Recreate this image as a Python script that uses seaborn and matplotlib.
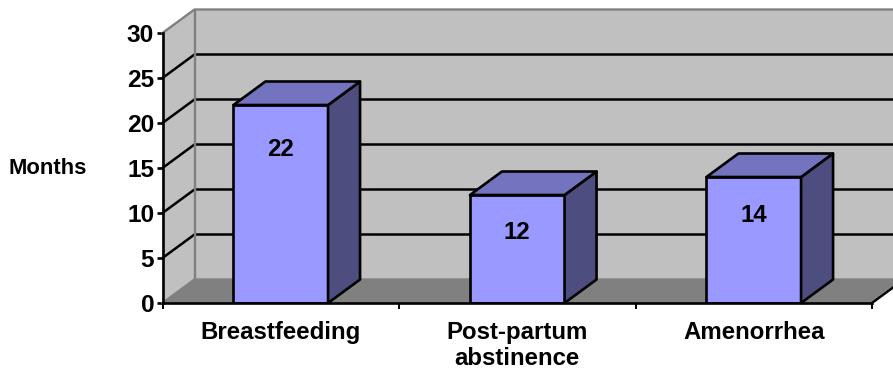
import pandas as pd
import matplotlib.pyplot as plt
import seaborn as sns
from matplotlib.patches import Polygon

categories = ["Breastfeeding", "Post-partum\nabstinence", "Amenorrhea"]
months = [22, 12, 14]
y_ticks = [0, 5, 10, 15, 20, 25, 30]

# depth of the fake 3D box, in data units
DX = 32 / 236.5
DY = 23.5 / 9

FRONT = "#9999FF"
TOP = "#7373BF"
SIDE = "#4D4D80"
WALL = "#C0C0C0"
FLOOR = "#808080"
EDGE = "#808080"

sns.set_theme(style="white")
plt.rcParams["font.family"] = ["Liberation Sans", "DejaVu Sans"]
plt.rcParams["font.weight"] = "bold"

W, H = 893, 370
fig = plt.figure(figsize=(W / 100, H / 100), dpi=100, facecolor="white")
ax = fig.add_axes([162.5 / W, 1 - 303 / H, (872 - 162.5) / W, 270 / H])
ax.patch.set_alpha(0)

df = pd.DataFrame({"category": categories, "months": months})
sns.barplot(data=df, x="category", y="months", color=FRONT, saturation=1, width=0.4,
            edgecolor="black", linewidth=1.9, ax=ax, zorder=4)

x0, x1 = -0.5, 2.5
y0, y1 = y_ticks[0], y_ticks[-1]
ax.set_xlim(x0, x1)
ax.set_ylim(y0, y1)


def poly(points, color, edge="none", lw=0, z=1):
    ax.add_patch(Polygon(points, closed=True, facecolor=color, edgecolor=edge, linewidth=lw,
                         joinstyle="round", clip_on=False, zorder=z))


# walls and floor
poly([(x0 + DX, y0 + DY), (x1 + DX, y0 + DY), (x1 + DX, y1 + DY), (x0 + DX, y1 + DY)], WALL, z=0)
poly([(x0, y0), (x0 + DX, y0 + DY), (x0 + DX, y1 + DY), (x0, y1)], WALL, z=0)
poly([(x0, y0), (x1, y0), (x1 + DX, y0 + DY), (x0 + DX, y0 + DY)], FLOOR, z=1)

for t in y_ticks[1:-1]:
    ax.plot([x0, x0 + DX, x1 + DX], [t, t + DY, t + DY], color="black", lw=1.8,
            clip_on=False, zorder=2, solid_joinstyle="miter")

ax.plot([x0, x0 + DX, x1 + DX], [y1, y1 + DY, y1 + DY], color=EDGE, lw=1.7, clip_on=False, zorder=2)
ax.plot([x0, x0 + DX, x1 + DX], [y0, y0 + DY, y0 + DY], color=EDGE, lw=1.7, clip_on=False, zorder=2)
ax.plot([x0 + DX, x0 + DX], [y0 + DY, y1 + DY], color=EDGE, lw=1.7, clip_on=False, zorder=2)
ax.plot([x1, x1 + DX], [y0, y0 + DY], color="black", lw=1.7, clip_on=False, zorder=2)

# side and top of each bar
for bar in ax.patches[:len(months)]:
    left = bar.get_x()
    right = left + bar.get_width()
    h = bar.get_height()
    poly([(right, 0), (right + DX, DY), (right + DX, h + DY), (right, h)], SIDE, "black", 1.9, 4)
    poly([(left, h), (right, h), (right + DX, h + DY), (left + DX, h + DY)], TOP, "black", 1.9, 4)

# labels sit a bit above the middle of the bars
label_y = [17.1, 7.8, 9.7]
for i, v in enumerate(months):
    ax.text(i, label_y[i], str(v), ha="center", va="center", fontsize=17.3, color="black",
            fontweight="bold", zorder=6)

for s in ["top", "right"]:
    ax.spines[s].set_visible(False)
for s in ["left", "bottom"]:
    ax.spines[s].set_color("black")
    ax.spines[s].set_linewidth(1.9)
    ax.spines[s].set_zorder(5)

ax.set_xlabel("")
ax.set_ylabel("")
ax.set_yticks(y_ticks)
ax.set_xticks([0, 1, 2], categories)
ax.set_xticks([-0.5, 0.5, 1.5, 2.5], minor=True)
ax.tick_params(axis="x", which="major", length=0, pad=13, labelsize=17.3, colors="black")
ax.tick_params(axis="x", which="minor", length=4.5, width=1.4, color="black", bottom=True)
ax.tick_params(axis="y", length=4.5, width=1.9, pad=1.5, labelsize=17.6, color="black", labelcolor="black", left=True)
for lab in ax.get_xticklabels() + ax.get_yticklabels():
    lab.set_fontweight("bold")
    lab.set_linespacing(1.15)

fig.text(47.5 / W, 1 - 168 / H, "Months", ha="center", va="center", fontsize=15.8,
         fontweight="bold", color="black")

fig.savefig("out.png", dpi=100)
